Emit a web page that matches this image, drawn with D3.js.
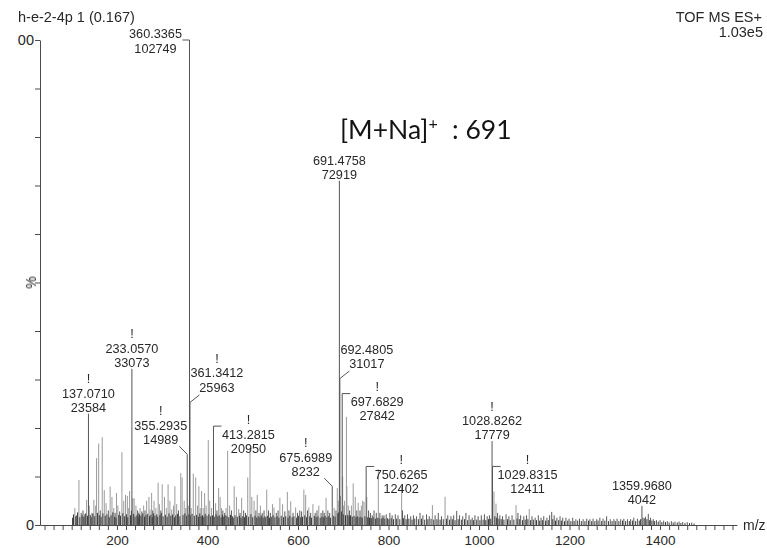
<!DOCTYPE html>
<html><head><meta charset="utf-8">
<script src="https://cdn.jsdelivr.net/npm/d3@7"></script>
<style>
html,body{margin:0;padding:0;background:#fff;}
svg{display:block;}
text{font-family:"Liberation Sans",Arial,sans-serif;fill:#262626;}
</style></head><body>
<svg id="chart" width="767" height="548"></svg>
<script>
// ---- header texts ----
const sampleTitle = "h-e-2-4p 1 (0.167)";
const scanMode = "TOF MS ES+";
const fullScale = "1.03e5";
const basePeakCounts = 102749;

// ---- annotated peaks (m/z, counts) ----
const labeledMz = [137.0710, 233.0570, 355.2935, 360.3365, 361.3412, 413.2815, 675.6989,
                   691.4758, 692.4805, 697.6829, 750.6265, 1028.8262, 1029.8315, 1359.9680];
const labeledCounts = [23584, 33073, 14989, 102749, 25963, 20950, 8232,
                       72919, 31017, 27842, 12402, 17779, 12411, 4042];
const labeledMark = [true, true, true, false, true, true, true,
                     false, false, true, true, true, true, false];
const labelPlacement = ["above", "above", "leftDiag", "bracketLeft", "rightDiag", "bracketRight", "leftDiag",
                        "above", "rightDiag", "bracketRight", "bracketRight", "above", "bracketRight", "above"];

// ---- other resolved peaks: [m/z, relative intensity %] ----
const minorPeaks = [
  [107,3.5],[111,2.0],[116,9.3],[121,2.5],[125,3.0],[129,2.2],[133,5.2],[139,4.0],[145,2.5],[149,5.2],
  [153,4.0],[155,13.8],[159.6,16.8],[163,3.0],[167.5,18.1],[172,7.2],[176,4.5],[181,3.0],[185,7.9],[189,5.8],
  [193,3.5],[196,2.5],[199,6.6],[202,4.0],[206,2.8],[211,15.0],[215,5.0],[219,6.2],[223,6.0],[226,3.5],
  [228,7.0],[235,5.5],[238,5.5],[242,4.0],[245.6,3.0],[248,2.5],[251,3.5],[255,2.8],[259,4.0],[262,3.0],
  [265.6,5.0],[270.7,5.8],[273,3.2],[276.6,6.6],[279,3.0],[282,5.0],[286,3.5],[291,8.7],[293.8,4.3],[297,3.0],
  [300,8.4],[305,5.8],[309,3.5],[313,8.4],[317,5.0],[321,3.2],[325,4.0],[328,8.0],[332,4.3],[336,3.0],
  [341,10.7],[344,9.8],[348.6,5.0],[352,3.5],[357.5,4.0],[364,3.5],[368.7,10.6],[374,9.8],[378,4.0],[381,8.0],
  [384,3.5],[387,7.0],[390.5,3.5],[393.8,6.6],[397,4.0],[401.8,17.5],[405,5.0],[409,3.5],[418,4.5],[421,3.0],
  [424.7,7.6],[428,5.8],[431,3.5],[434,3.0],[438,2.5],[441,3.5],[444.6,15.3],[449,4.0],[453,3.0],[459,8.0],
  [464,5.8],[469,3.3],[472,2.5],[475.5,5.6],[480,3.0],[484,2.5],[489,9.8],[494,15.9],[498,5.8],[503,5.0],
  [507,3.0],[510,6.2],[514,2.5],[517,4.0],[521,2.5],[525,3.0],[531,7.3],[535,3.0],[539,2.5],[543.6,4.3],
  [547,3.6],[552,2.5],[556,3.0],[560,5.6],[566,4.3],[571,2.8],[576.5,6.8],[580,3.0],[584,4.9],[589,2.5],
  [594.8,3.6],[599,2.5],[604,3.0],[608,2.8],[613,7.3],[617,6.2],[621,3.0],[624,3.6],[628,2.5],[633,4.3],
  [638,2.5],[642,3.0],[646,4.0],[651,2.5],[655,3.0],[658,2.5],[662,5.6],[666,3.0],[670,2.5],[680,3.5],
  [684,3.0],[686.8,7.6],[689,5.0],[694,6.0],[698.7,10.0],[701,4.0],[703,5.0],[707,22.3],[708,8.0],[711,4.0],
  [714,3.0],[718,4.0],[722,8.6],[726.6,5.8],[730,3.0],[733,4.6],[737,3.0],[740,4.0],[743,5.0],[746,4.8],
  [752,5.8],[756,3.0],[760,2.5],[764,2.0],[768,3.0],[773,2.5],[777.5,11.5],[781,2.5],[786,2.0],[790,2.0],
  [795,2.2],[803,2.5],[808,2.0],[815,2.2],[821,2.0],[829,7.9],[831,3.0],[836,2.0],[842,2.2],[849,1.8],
  [855,2.0],[862,1.8],[869.6,2.5],[876,2.0],[884,2.2],[890,1.8],[897,4.1],[903,2.0],[910,2.5],[917,1.8],
  [925,5.8],[931,2.0],[938,1.8],[944,2.0],[950.7,2.9],[957,2.0],[964,1.8],[971,2.5],[978,2.0],[985,1.5],
  [991,2.0],[998,1.8],[1005,2.0],[1012,2.2],[1018,1.8],[1023,2.0],[1033,6.9],[1037.5,4.4],[1041,2.5],[1046,2.0],
  [1052,1.8],[1059.7,2.2],[1066,1.8],[1073,2.0],[1081.8,4.1],[1086,2.5],[1092,2.0],[1099,1.8],[1105,2.0],[1111,3.3],
  [1117,1.8],[1124,1.5],[1131,2.0],[1137,1.5],[1143,1.8],[1150,1.5],[1156,2.0],[1160.6,2.7],[1166,2.0],[1172,1.5],
  [1179,1.8],[1185,1.5],[1192,1.5],[1199,1.3],[1207,1.5],[1214,1.2],[1222,1.3],[1230,1.2],[1238,1.3],[1245,1.2],
  [1252,1.3],[1260,1.2],[1267,1.5],[1274,1.3],[1282,1.8],[1290,1.2],[1298,1.2],[1305,1.3],[1313,1.2],[1320,1.3],
  [1328,1.2],[1335,1.2],[1342,1.5],[1350,1.3],[1362,1.5],[1368,1.7],[1374,2.3],[1379,1.5],[1385,1.2],[1392,1.0],
  [1400,1.0],[1408,0.9],[1416,0.8],[1425,0.8],[1433,0.7],[1442,0.7],[1450,0.6],[1460,0.6],[1470,0.5]
];

// ---- baseline chemical noise: [m/z, relative intensity %] ----
const baselinePeaks = [
  [102,1.5],[104,2.2],[109,1.8],[113,2.6],[118,1.6],[123,2.0],[127,1.7],[131,2.4],[135,1.9],[141,2.1],
  [143,1.6],[147,2.3],[151,1.8],[157,2.5],[161,2.0],[165,1.7],[169,2.4],[174,1.9],[178,2.2],[183,1.6],
  [187,2.0],[191,2.6],[195,1.7],[198,1.5],[204,2.1],[208,1.9],[213,2.4],[217,1.8],[221,2.2],[224,1.6],
  [230,2.0],[232,3.0],[237,2.3],[240,1.7],[244,2.0],[247,1.6],[250,2.2],[253,1.9],[257,2.4],[261,1.7],
  [264,2.0],[268,2.3],[272,1.8],[275,2.1],[278,1.6],[281,2.4],[284,1.9],[288,2.2],[290,1.7],[295,2.0],
  [298,2.5],[302,1.8],[307,2.1],[311,1.7],[315,2.4],[319,1.9],[323,2.2],[327,1.6],[330,2.0],[334,2.3],
  [339,1.8],[346,2.1],[350,2.4],[354,1.9],[359,2.2],[362,2.0],[366,2.3],[371,1.9],[376,2.1],[380,1.7],
  [383,2.4],[386,1.8],[389,2.0],[392,1.7],[395,2.3],[399,1.9],[403,2.2],[407,1.8],[411,2.0],[415,1.7],
  [419,2.2],[423,1.8],[426,2.0],[430,1.6],[433,2.1],[436,1.7],[439,2.0],[443,1.9],[447,1.6],[451,2.1],
  [455,1.8],[457,1.5],[461,2.0],[466,1.7],[471,1.9],[474,1.5],[478,1.8],[482,1.6],[486,2.0],[491,1.7],
  [496,2.2],[500,1.6],[505,1.9],[509,1.5],[512,1.8],[516,1.6],[519,2.0],[523,1.5],[527,1.8],[529,1.6],
  [533,1.9],[537,1.5],[541,1.7],[545,2.0],[549,1.6],[554,1.8],[558,1.5],[563,1.9],[568,1.6],[573,1.8],
  [578,1.5],[582,1.9],[587,1.6],[591,1.8],[597,1.5],[601,1.9],[606,1.6],[610,1.7],[615,2.0],[619,1.6],
  [626,1.8],[630,1.5],[636,1.9],[640,1.6],[644,1.8],[649,1.5],[653,1.7],[657,1.6],[660,1.9],[664,1.6],
  [668,1.8],[672,1.5],[678,1.9],[682,1.7],[688,2.4],[690,2.6],[696,2.8],[700,2.2],[705,2.0],[710,2.1],
  [713,1.8],[716,2.0],[720,1.7],[724,1.9],[728,1.6],[731,1.8],[735,1.6],[739,1.7],[742,1.5],[748,1.8],
  [754,1.6],[758,1.5],[762,1.4],[766,1.6],[771,1.3],[775,1.5],[779,1.4],[784,1.3],[788,1.5],[792,1.3],
  [798,1.4],[801,1.2],[806,1.4],[811,1.2],[818,1.3],[825,1.2],[833,1.4],[839,1.2],[845,1.3],[852,1.1],
  [858,1.3],[866,1.2],[873,1.3],[880,1.1],[887,1.2],[894,1.3],[900,1.1],[907,1.2],[914,1.1],[921,1.2],
  [928,1.3],[935,1.1],[941,1.2],[947,1.0],[954,1.2],[961,1.1],[968,1.2],[975,1.0],[982,1.1],[988,1.0],
  [995,1.1],[1002,1.0],[1009,1.1],[1015,1.0],[1021,1.2],[1026,1.3],[1035,1.8],[1039,1.5],[1044,1.3],[1049,1.2],
  [1055,1.1],[1063,1.2],[1069,1.0],[1077,1.1],[1084,1.3],[1089,1.2],[1096,1.0],[1102,1.1],[1108,1.2],[1114,1.0],
  [1120,1.1],[1127,1.0],[1134,0.9],[1140,1.0],[1147,0.9],[1153,1.0],[1163,1.2],[1169,0.9],[1176,1.0],[1182,0.9],
  [1189,0.8],[1196,0.9],[1203,0.8],[1210,0.8],[1218,0.9],[1226,0.8],[1234,0.8],[1242,0.9],[1249,0.8],[1256,0.8],
  [1263,0.9],[1271,0.8],[1278,0.9],[1286,0.8],[1294,0.8],[1301,0.8],[1309,0.8],[1317,0.9],[1324,0.8],[1332,0.8],
  [1339,0.9],[1346,0.8],[1354,0.9],[1357,1.2],[1365,1.4],[1371,1.2],[1377,1.0],[1382,0.9],[1388,0.8],[1396,0.7],
  [1404,0.6],[1412,0.6],[1420,0.5],[1429,0.5],[1438,0.5],[1446,0.4],[1455,0.4],[1465,0.4],[1475,0.3]
];

// ---- axes ----
const xDomain = [30, 1570];
const xTickLabels = [200, 400, 600, 800, 1000, 1200, 1400];
const xMinorStep = 20;
const yTickLabels = [0, 100];
const yMinorStep = 10;
const xAxisTitle = "m/z";
const yAxisTitle = "%";
const adductNote = { main: "[M+Na]", sup: "+", tail: ": 691" };

// ---- drawing ----
const svg = d3.select("#chart");
const W = 767, H = 548;
const x = d3.scaleLinear().domain(xDomain).range([40, 737]);
const y = d3.scaleLinear().domain([0, 100]).range([525, 40]);
const pct = c => c / basePeakCounts * 100;

svg.append("rect").attr("width", W).attr("height", H).attr("fill", "#fff");

// printout is trimmed along its left margin
svg.append("defs").append("clipPath").attr("id", "page")
  .append("rect").attr("x", 17.5).attr("y", 0).attr("width", W - 17.5).attr("height", H);
const page = svg.append("g").attr("clip-path", "url(#page)");

const peaks = page.append("g");
peaks.selectAll("line.minor").data(minorPeaks).join("line")
  .attr("class", "minor")
  .attr("x1", d => x(d[0])).attr("x2", d => x(d[0]))
  .attr("y1", y(0)).attr("y2", d => y(d[1]))
  .attr("stroke", d => d[1] > 3 ? "#9a9a9a" : "#5a5a5a").attr("stroke-width", 1);
peaks.selectAll("line.base").data(baselinePeaks).join("line")
  .attr("class", "base")
  .attr("x1", d => x(d[0])).attr("x2", d => x(d[0]))
  .attr("y1", y(0)).attr("y2", d => y(d[1]))
  .attr("stroke", "#3a3a3a").attr("stroke-width", 1);

const labeled = labeledMz.map((m, i) => ({
  mz: m, counts: labeledCounts[i], mark: labeledMark[i], place: labelPlacement[i]
}));
peaks.selectAll("line.lab").data(labeled).join("line")
  .attr("class", "lab")
  .attr("x1", d => x(d.mz)).attr("x2", d => x(d.mz))
  .attr("y1", y(0)).attr("y2", d => y(pct(d.counts)))
  .attr("stroke", "#555").attr("stroke-width", 1);

// axes
const xTicks = d3.range(40, 1561, xMinorStep);
const xAxis = d3.axisBottom(x).tickValues(xTicks).tickSize(5).tickSizeOuter(0).tickPadding(5)
  .tickFormat(d => xTickLabels.includes(d) ? String(d) : "");
const gx = page.append("g").attr("transform", `translate(0,${y(0)})`).call(xAxis);
gx.select(".domain").attr("stroke", "#4a4a4a");
gx.selectAll(".tick line").attr("stroke", "#4a4a4a");
gx.selectAll(".tick text").attr("font-size", 13.5).attr("fill", "#262626").attr("opacity", 0.99)
  .attr("font-family", "Liberation Sans, Arial, sans-serif");

const yTicks = d3.range(0, 101, yMinorStep);
const yAxis = d3.axisLeft(y).tickValues(yTicks).tickSize(5).tickSizeOuter(0).tickPadding(1)
  .tickFormat(d => yTickLabels.includes(d) ? String(d) : "");
const gy = page.append("g").attr("transform", `translate(${x(xDomain[0])},0)`).call(yAxis);
gy.select(".domain").attr("stroke", "#4a4a4a");
gy.selectAll(".tick line").attr("stroke", "#4a4a4a");
gy.selectAll(".tick text").attr("font-size", 14.5).attr("fill", "#262626").attr("opacity", 0.99)
  .attr("font-family", "Liberation Sans, Arial, sans-serif");

const texts = page.append("g").attr("opacity", 0.99);
texts.append("text").attr("x", 743).attr("y", y(0)).attr("dy", "0.35em")
  .attr("font-size", 14).text(xAxisTitle);
texts.append("text").attr("transform", `translate(31,${y(50)}) rotate(-90)`)
  .attr("text-anchor", "middle").attr("dy", "0.35em").attr("font-size", 14).text(yAxisTitle);

// header
texts.append("text").attr("x", 18).attr("y", 22).attr("font-size", 14.5).text(sampleTitle);
texts.append("text").attr("x", 762).attr("y", 22).attr("text-anchor", "end").attr("font-size", 14.5).text(scanMode);
texts.append("text").attr("x", 763).attr("y", 36.5).attr("text-anchor", "end").attr("font-size", 14.5).text(fullScale);

// peak annotations
const fs = 12.7;
const ann = page.append("g");
const annText = page.append("g").attr("opacity", 0.99);
labeled.forEach(d => {
  const px = x(d.mz), py = y(pct(d.counts));
  let cx, yMz, yInt, yBang, lead = null;
  switch (d.place) {
    case "above": cx = px; yInt = py - 6.5; yMz = py - 20.5; yBang = py - 35; break;
    case "leftDiag": cx = px - 26.5; yInt = py - 14.5; yMz = py - 28.5; yBang = py - 43.5;
      lead = [[px - 8, py - 8], [px, py]]; break;
    case "rightDiag": cx = px + 27; yInt = py - 15; yMz = py - 29.5; yBang = py - 44;
      lead = [[px + 9.5, py - 7.5], [px, py]]; break;
    case "bracketRight": cx = px + 35; yBang = py - 7; yMz = py + 8; yInt = py + 22;
      lead = [[px, py], [px + 8, py]]; break;
    case "bracketLeft": cx = px - 34; yMz = py - 6; yInt = py + 8.5;
      lead = [[px - 7, py], [px, py]]; break;
  }
  if (lead) ann.append("path").attr("d", d3.line()(lead)).attr("stroke", "#555").attr("fill", "none");
  const t = (yy, s) => annText.append("text").attr("x", cx).attr("y", yy).attr("dy", "0.35em")
    .attr("text-anchor", "middle").attr("font-size", fs).text(s);
  t(yMz, d.mz.toFixed(4));
  t(yInt, String(d.counts));
  if (d.mark) t(yBang, "!");
});

// adduct note
const note = texts.append("text").attr("y", 138.5)
  .attr("font-size", 26.5).style("font-family", "Lato, sans-serif").style("fill", "#111");
note.append("tspan").attr("x", 340).text(adductNote.main);
note.append("tspan").attr("dy", -10).attr("font-size", 16).text(adductNote.sup);
note.append("tspan").attr("x", 452).attr("dy", 10).text(adductNote.tail);
</script>
</body></html>
